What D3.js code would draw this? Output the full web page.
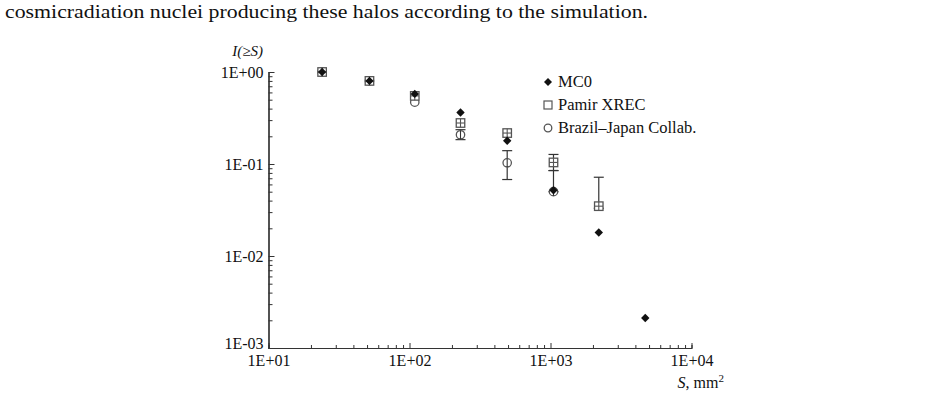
<!DOCTYPE html>
<html lang="en">
<head>
<meta charset="utf-8">
<title>I(>=S) vs S</title>
<script src="https://cdn.jsdelivr.net/npm/d3@7"></script>
<style>
  body { margin: 0; background: #fff; }
  svg text { font-family: "Liberation Serif", "Times New Roman", serif; fill: #111; }
</style>
</head>
<body>
<svg id="chart" width="934" height="411"></svg>
<script>
// halo area thresholds S (mm^2)
var sizes = [24, 52, 109, 230, 493, 1050, 2200, 4700];

// MC0 simulation
var mc0 = [1.0, 0.80, 0.578, 0.363, 0.179, 0.0519, 0.0180, 0.00212];

// Pamir XREC (squares)
var pamirS = [24, 52, 109, 230, 493, 1050, 2200];
var pamir = [1.0, 0.80, 0.55, 0.279, 0.217, 0.104, 0.0348];
var pamirLo = [null, null, null, null, null, 0.0849, 0.033];
var pamirHi = [null, null, null, null, null, 0.127, 0.0718];

// Brazil-Japan collaboration (circles)
var bjS = [24, 52, 109, 230, 493, 1050];
var bj = [1.0, 0.80, 0.47, 0.208, 0.103, 0.050];
var bjLo = [null, null, null, 0.184, 0.0678, 0.050];
var bjHi = [null, null, null, 0.236, 0.1396, 0.0849];

var xTicks = [10, 100, 1000, 10000];
var xTickLabels = ["1E+01", "1E+02", "1E+03", "1E+04"];
var yTicks = [1, 0.1, 0.01, 0.001];
var yTickLabels = ["1E+00", "1E-01", "1E-02", "1E-03"];
var legendNames = ["MC0", "Pamir XREC", "Brazil\u2013Japan Collab."];

var svg = d3.select("#chart");

// caption line above the figure
svg.append("text")
  .attr("x", 5).attr("y", 18)
  .attr("font-size", 19)
  .attr("textLength", 643).attr("lengthAdjust", "spacingAndGlyphs")
  .text("cosmicradiation nuclei producing these halos according to the simulation.");

var x = d3.scaleLog().domain([10, 10000]).range([268.5, 691.5]);
var y = d3.scaleLog().domain([0.001, 1]).range([348, 72]);

function minors(lo, hi) {
  var out = [];
  for (var d = lo; d < hi; d *= 10) {
    for (var k = 2; k <= 9; k++) out.push(d * k);
  }
  return out;
}

// axes
var axisColor = "#333";
var gx = svg.append("g").attr("transform", "translate(0,348)");
gx.call(d3.axisBottom(x).tickValues(minors(10, 10000)).tickSize(-3).tickFormat(""));
gx.append("g").call(d3.axisBottom(x).tickValues(xTicks).tickSizeInner(-5).tickSizeOuter(0)
  .tickPadding(7).tickFormat(function(d, i) { return xTickLabels[i]; }));
var gy = svg.append("g").attr("transform", "translate(268.5,0)");
gy.call(d3.axisLeft(y).tickValues(minors(0.001, 1)).tickSize(-4).tickFormat(""));
gy.append("g").call(d3.axisLeft(y).tickValues(yTicks).tickSizeInner(-6).tickSizeOuter(0)
  .tickPadding(5).tickFormat(function(d, i) { return yTickLabels[i]; }));

svg.selectAll(".domain").attr("stroke", axisColor).attr("stroke-width", 1.2);
svg.selectAll(".tick line").attr("stroke", axisColor);
svg.selectAll(".tick text").attr("font-size", 16).attr("fill", "#111")
  .attr("font-family", "Liberation Serif, serif");
// bottom label sits just above the corner, as in the figure
gy.selectAll(".tick text").filter(function(d) { return d === 0.001; })
  .attr("dy", "0.05em");

// axis titles
svg.append("text").attr("x", 263).attr("y", 56).attr("text-anchor", "end")
  .attr("font-size", 15).attr("font-style", "italic")
  .text("I(\u2265S)");

var xt = svg.append("text").attr("x", 724).attr("y", 388).attr("text-anchor", "end")
  .attr("font-size", 16);
xt.append("tspan").attr("font-style", "italic").text("S");
xt.append("tspan").text(", mm");
xt.append("tspan").attr("font-size", 11).attr("dy", -6).text("2");

var plot = svg.append("g");
var markColor = "#555";
var barColor = "#333";

function errBars(sArr, lo, hi) {
  sArr.forEach(function(s, i) {
    if (lo[i] == null) return;
    var cx = x(s);
    plot.append("line").attr("x1", cx).attr("x2", cx)
      .attr("y1", y(hi[i])).attr("y2", y(lo[i]))
      .attr("stroke", barColor).attr("stroke-width", 1.2);
    [lo[i], hi[i]].forEach(function(v) {
      plot.append("line").attr("x1", cx - 5).attr("x2", cx + 5)
        .attr("y1", y(v)).attr("y2", y(v))
        .attr("stroke", barColor).attr("stroke-width", 1.2);
    });
  });
}

function square(g, cx, cy, s) {
  g.append("rect").attr("x", cx - s / 2).attr("y", cy - s / 2)
    .attr("width", s).attr("height", s)
    .attr("fill", "#fff").attr("stroke", markColor).attr("stroke-width", 1.3);
  g.append("line").attr("x1", cx - s / 2).attr("x2", cx + s / 2).attr("y1", cy).attr("y2", cy)
    .attr("stroke", markColor).attr("stroke-width", 1.1);
  g.append("line").attr("x1", cx).attr("x2", cx).attr("y1", cy - s / 2).attr("y2", cy + s / 2)
    .attr("stroke", markColor).attr("stroke-width", 1.1);
}

function circle(g, cx, cy, r) {
  g.append("circle").attr("cx", cx).attr("cy", cy).attr("r", r)
    .attr("fill", "#fff").attr("stroke", markColor).attr("stroke-width", 1.3);
}

function diamond(g, cx, cy, r) {
  g.append("path")
    .attr("d", "M" + cx + "," + (cy - r) + "L" + (cx + r) + "," + cy + "L" + cx + "," + (cy + r) + "L" + (cx - r) + "," + cy + "Z")
    .attr("fill", "#111");
}

// circles first, then squares, then diamonds on top
errBars(bjS, bjLo, bjHi);
bjS.forEach(function(s, i) {
  circle(plot, x(s), y(bj[i]), 4.2);
  if (bjLo[i] != null) {
    plot.append("line").attr("x1", x(s)).attr("x2", x(s))
      .attr("y1", y(bj[i]) - 4.2).attr("y2", y(bj[i]) + 4.2)
      .attr("stroke", barColor).attr("stroke-width", 1.1);
  }
});
errBars(pamirS, pamirLo, pamirHi);
pamirS.forEach(function(s, i) { square(plot, x(s), y(pamir[i]), 8.5); });
sizes.forEach(function(s, i) { diamond(plot, x(s), y(mc0[i]), 4.2); });

// legend
var leg = svg.append("g");
var legY = [82, 105, 128];
diamond(leg, 548, legY[0], 4);
leg.append("rect").attr("x", 544).attr("y", legY[1] - 4).attr("width", 8).attr("height", 8)
  .attr("fill", "#fff").attr("stroke", markColor).attr("stroke-width", 1.2);
circle(leg, 548, legY[2], 3.8);
legendNames.forEach(function(n, i) {
  leg.append("text").attr("x", 558).attr("y", legY[i] + 5)
    .attr("font-size", 16.5).text(n);
});
</script>
</body>
</html>
